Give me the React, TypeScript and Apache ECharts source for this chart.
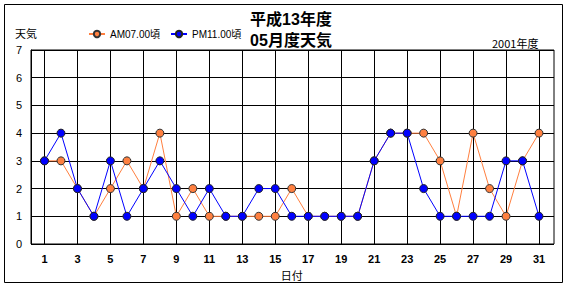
import React, { useEffect, useRef } from "react";
import * as echarts from "echarts";

const days = Array.from({ length: 31 }, (_, i) => String(i + 1));
const amSeries = [3, 3, 2, 1, 2, 3, 2, 4, 1, 2, 1, 1, 1, 1, 1, 2, 1, 1, 1, 1, 3, 4, 4, 4, 3, 1, 4, 2, 1, 3, 4];
const pmSeries = [3, 4, 2, 1, 3, 1, 2, 3, 2, 1, 2, 1, 1, 2, 2, 1, 1, 1, 1, 1, 3, 4, 4, 2, 1, 1, 1, 1, 3, 3, 1];
const seriesNames = ["AM07.00頃", "PM11.00頃"];
const titleLines = ["平成13年度", "05月度天気"];

const FONT = "'Liberation Sans', 'Noto Sans CJK JP', sans-serif";
const CJK = "'Noto Sans CJK JP', 'Liberation Sans', sans-serif";

export default function App() {
  const ref = useRef<HTMLDivElement>(null);
  useEffect(() => {
    if (!ref.current) return;
    const chart = echarts.init(ref.current, undefined, { renderer: "svg" });
    chart.setOption({
      animation: false,
      backgroundColor: "#fff",
      textStyle: { fontFamily: FONT },
      legend: {
        left: 88,
        top: 29,
        padding: 0,
        itemWidth: 16,
        itemHeight: 8,
        itemGap: 10,
        textStyle: { fontSize: 10, color: "#000", fontFamily: FONT },
        data: seriesNames,
      },
      grid: [
        { left: 31, right: 16, top: 50, bottom: 46, show: true, borderColor: "#000", borderWidth: 1, backgroundColor: "transparent" },
        { left: 44.5, right: 31, top: 50, bottom: 46 },
      ],
      xAxis: [
        { type: "value", gridIndex: 0, show: false, min: 0, max: 1 },
        {
          type: "category",
          gridIndex: 1,
          data: days,
          boundaryGap: false,
          axisLine: { show: false },
          axisTick: { show: false },
          splitLine: { show: true, lineStyle: { color: "#000", width: 1 } },
          axisLabel: { interval: 1, margin: 9, fontSize: 11, fontWeight: "bold", color: "#000", fontFamily: FONT },
          name: "日付",
          nameLocation: "middle",
          nameGap: 25,
          nameTextStyle: { fontSize: 11, color: "#000", fontFamily: CJK },
        },
      ],
      yAxis: [
        {
          type: "value",
          gridIndex: 0,
          min: 0,
          max: 7,
          interval: 1,
          axisLine: { show: true, lineStyle: { color: "#000" } },
          axisTick: { show: false },
          splitLine: { show: true, lineStyle: { color: "#000", width: 1 } },
          axisLabel: { margin: 9, fontSize: 11, color: "#000", fontFamily: FONT },
        },
        { type: "value", gridIndex: 1, min: 0, max: 7, interval: 1, show: false, splitLine: { show: false } },
      ],
      series: [
        {
          name: seriesNames[0],
          type: "line",
          xAxisIndex: 1,
          yAxisIndex: 1,
          data: amSeries,
          symbol: "circle",
          symbolSize: 8,
          showAllSymbol: true,
          lineStyle: { color: "#FF7F3F", width: 1 },
          itemStyle: { color: "#FF8040", borderColor: "#333", borderWidth: 1 },
          z: 3,
        },
        {
          name: seriesNames[1],
          type: "line",
          xAxisIndex: 1,
          yAxisIndex: 1,
          data: pmSeries,
          symbol: "circle",
          symbolSize: 8,
          showAllSymbol: true,
          lineStyle: { color: "#0000FF", width: 1 },
          itemStyle: { color: "#0000FF", borderColor: "#222", borderWidth: 1 },
          z: 4,
        },
      ],
      graphic: [
        { type: "rect", shape: { x: 4.5, y: 4.5, width: 558, height: 278 }, style: { fill: "none", stroke: "#000", lineWidth: 1 } },
        { type: "text", x: 291, y: 19, style: { text: titleLines[0], font: `bold 16px ${FONT}`, fill: "#000", textAlign: "center", textVerticalAlign: "middle" } },
        { type: "text", x: 291, y: 40, style: { text: titleLines[1], font: `bold 16px ${FONT}`, fill: "#000", textAlign: "center", textVerticalAlign: "middle" } },
        { type: "text", x: 15, y: 33, style: { text: "天気", font: `11px ${CJK}`, fill: "#000", textVerticalAlign: "middle" } },
        { type: "text", x: 492, y: 43, style: { text: "2001年度", font: `11px ${CJK}`, fill: "#000", textVerticalAlign: "middle" } },
      ],
    });
    return () => chart.dispose();
  }, []);
  return <div ref={ref} style={{ position: "absolute", left: 0, top: 0, width: 570, height: 290 }} />;
}
